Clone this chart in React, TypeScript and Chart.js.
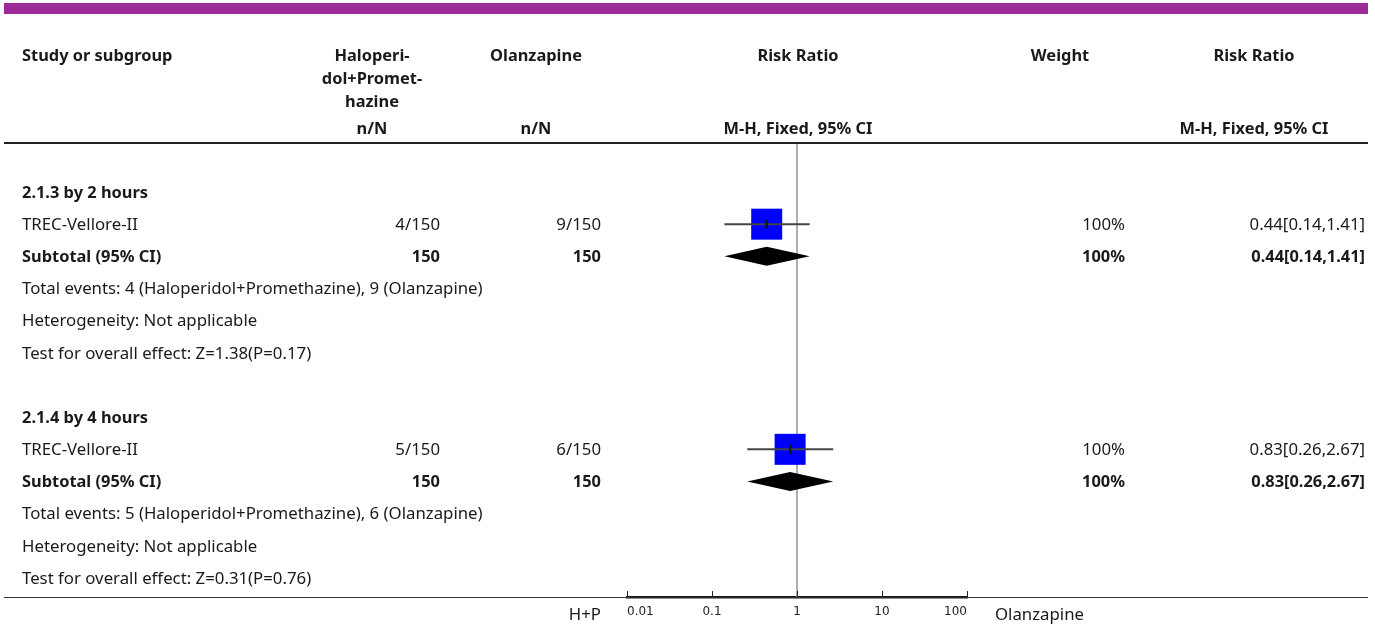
import { useEffect, useRef } from 'react';
import { Chart, registerables } from 'chart.js';

Chart.register(...registerables);

const W = 1375;
const H = 628;

// Subgroups and their single trial
const groupTitles = ['2.1.3 by 2 hours', '2.1.4 by 4 hours'];
const studyNames = ['TREC-Vellore-II', 'TREC-Vellore-II'];
const hpEvents = [4, 5];
const hpTotals = [150, 150];
const olzEvents = [9, 6];
const olzTotals = [150, 150];
const studyRR = [0.44, 0.83];
const studyLow = [0.14, 0.26];
const studyHigh = [1.41, 2.67];
const studyWeights = [100, 100];

// Pooled subtotals per subgroup
const subtotalRR = [0.44, 0.83];
const subtotalLow = [0.14, 0.26];
const subtotalHigh = [1.41, 2.67];
const subtotalWeights = [100, 100];
const heterogeneity = ['Not applicable', 'Not applicable'];
const effectZ = ['1.38', '0.31'];
const effectP = ['0.17', '0.76'];

// Axis
const axisTicks = [0.01, 0.1, 1, 10, 100];
const leftFavours = 'H+P';
const rightFavours = 'Olanzapine';
const interventionName = 'Haloperidol+Promethazine';
const controlName = 'Olanzapine';

const FONT = '"Noto Sans", Roboto, sans-serif';
const TICK_FONT = '"DejaVu Sans", sans-serif';
const TEXT = '#1a1a1a';
const REGULAR_SIZE = 16.8;
const BOLD_SIZE = 16.4;
const ROWS_PER_GROUP = 7;
const groupRow = (g: number) => g * ROWS_PER_GROUP;
const studyRow = (g: number) => g * ROWS_PER_GROUP + 1;
const subtotalRow = (g: number) => g * ROWS_PER_GROUP + 2;
const MAX_BOX = 31;

const fmtCI = (r: number, lo: number, hi: number) =>
  `${r.toFixed(2)}[${lo.toFixed(2)},${hi.toFixed(2)}]`;

// column anchors
const COL = {
  study: 22,
  hp: 440,
  olz: 601,
  hpHead: 372,
  olzHead: 536,
  plotHead: 798,
  weight: 1125,
  weightHead: 1060,
  rr: 1365,
  rrHead: 1254,
};

function text(
  ctx: CanvasRenderingContext2D,
  s: string,
  x: number,
  y: number,
  align: CanvasTextAlign,
  bold = false
) {
  ctx.font = bold ? `bold ${BOLD_SIZE}px ${FONT}` : `${REGULAR_SIZE}px ${FONT}`;
  ctx.fillStyle = TEXT;
  ctx.textAlign = align;
  ctx.textBaseline = 'middle';
  ctx.fillText(s, x, y + 1);
}

const forestPlugin = {
  id: 'forestTable',
  beforeDatasetsDraw(chart: any) {
    const { ctx, chartArea, scales } = chart;
    const x1 = scales.x.getPixelForValue(1);
    ctx.save();
    ctx.strokeStyle = '#9a9a9a';
    ctx.lineWidth = 1.6;
    ctx.beginPath();
    ctx.moveTo(x1, chartArea.top);
    ctx.lineTo(x1, chartArea.bottom);
    ctx.stroke();
    ctx.restore();
  },
  afterDatasetsDraw(chart: any) {
    const { ctx, scales } = chart;
    const xs = scales.x;
    const ys = scales.y;
    ctx.save();
    ctx.fillStyle = '#000';
    subtotalRR.forEach((r, g) => {
      const y = ys.getPixelForValue(subtotalRow(g));
      const half = 9.5;
      ctx.beginPath();
      ctx.moveTo(xs.getPixelForValue(subtotalLow[g]), y);
      ctx.lineTo(xs.getPixelForValue(r), y - half);
      ctx.lineTo(xs.getPixelForValue(subtotalHigh[g]), y);
      ctx.lineTo(xs.getPixelForValue(r), y + half);
      ctx.closePath();
      ctx.fill();
    });
    ctx.restore();
  },
  afterDraw(chart: any) {
    const { ctx, chartArea, scales } = chart;
    const xs = scales.x;
    const ys = scales.y;
    ctx.save();

    // top banner
    ctx.fillStyle = '#9c2a97';
    ctx.fillRect(4, 3, 1364, 11);

    // header
    text(ctx, 'Study or subgroup', COL.study, 55, 'left', true);
    ['Haloperi-', 'dol+Promet-', 'hazine'].forEach((s, i) =>
      text(ctx, s, COL.hpHead, 55 + i * 23, 'center', true)
    );
    text(ctx, controlName, COL.olzHead, 55, 'center', true);
    text(ctx, 'Risk Ratio', COL.plotHead, 55, 'center', true);
    text(ctx, 'Weight', COL.weightHead, 55, 'center', true);
    text(ctx, 'Risk Ratio', COL.rrHead, 55, 'center', true);
    text(ctx, 'n/N', COL.hpHead, 128, 'center', true);
    text(ctx, 'n/N', COL.olzHead, 128, 'center', true);
    text(ctx, 'M-H, Fixed, 95% CI', COL.plotHead, 128, 'center', true);
    text(ctx, 'M-H, Fixed, 95% CI', COL.rrHead, 128, 'center', true);

    // rules
    ctx.strokeStyle = '#222';
    ctx.lineWidth = 2;
    ctx.beginPath();
    ctx.moveTo(4, chartArea.top);
    ctx.lineTo(1368, chartArea.top);
    ctx.stroke();
    ctx.lineWidth = 1;
    ctx.strokeStyle = '#333';
    ctx.beginPath();
    ctx.moveTo(4, chartArea.bottom + 0.5);
    ctx.lineTo(1368, chartArea.bottom + 0.5);
    ctx.stroke();

    // upward ticks
    ctx.lineWidth = 1;
    ctx.strokeStyle = '#222';
    axisTicks.forEach((t) => {
      const x = Math.round(xs.getPixelForValue(t)) + 0.5;
      ctx.beginPath();
      ctx.moveTo(x, chartArea.bottom - 6);
      ctx.lineTo(x, chartArea.bottom);
      ctx.stroke();
    });
    const axisY = chartArea.bottom + 17;
    text(ctx, leftFavours, xs.getPixelForValue(axisTicks[0]) - 26, axisY, 'right');
    text(ctx, rightFavours, xs.getPixelForValue(axisTicks[axisTicks.length - 1]) + 28, axisY, 'left');

    // table rows
    groupTitles.forEach((title, g) => {
      text(ctx, title, COL.study, ys.getPixelForValue(groupRow(g)), 'left', true);

      const yS = ys.getPixelForValue(studyRow(g));
      text(ctx, studyNames[g], COL.study, yS, 'left');
      text(ctx, `${hpEvents[g]}/${hpTotals[g]}`, COL.hp, yS, 'right');
      text(ctx, `${olzEvents[g]}/${olzTotals[g]}`, COL.olz, yS, 'right');
      text(ctx, `${studyWeights[g]}%`, COL.weight, yS, 'right');
      text(ctx, fmtCI(studyRR[g], studyLow[g], studyHigh[g]), COL.rr, yS, 'right');

      const yT = ys.getPixelForValue(subtotalRow(g));
      text(ctx, 'Subtotal (95% CI)', COL.study, yT, 'left', true);
      text(ctx, `${hpTotals[g]}`, COL.hp, yT, 'right', true);
      text(ctx, `${olzTotals[g]}`, COL.olz, yT, 'right', true);
      text(ctx, `${subtotalWeights[g]}%`, COL.weight, yT, 'right', true);
      text(ctx, fmtCI(subtotalRR[g], subtotalLow[g], subtotalHigh[g]), COL.rr, yT, 'right', true);

      text(
        ctx,
        `Total events: ${hpEvents[g]} (${interventionName}), ${olzEvents[g]} (${controlName})`,
        COL.study,
        ys.getPixelForValue(groupRow(g) + 3),
        'left'
      );
      text(ctx, `Heterogeneity: ${heterogeneity[g]}`, COL.study, ys.getPixelForValue(groupRow(g) + 4), 'left');
      text(
        ctx,
        `Test for overall effect: Z=${effectZ[g]}(P=${effectP[g]})`,
        COL.study,
        ys.getPixelForValue(groupRow(g) + 5),
        'left'
      );
    });
    ctx.restore();
  },
};

export default function App() {
  const ref = useRef<HTMLCanvasElement | null>(null);

  useEffect(() => {
    if (!ref.current) return;
    const rowsIdx = studyNames.map((_, g) => studyRow(g));

    const ciLines = studyNames.map((_, g) => ({
      type: 'line' as const,
      data: [
        { x: studyLow[g], y: rowsIdx[g] },
        { x: studyHigh[g], y: rowsIdx[g] },
      ],
      borderColor: '#444',
      borderWidth: 2,
      pointRadius: 0,
      showLine: true,
      order: 2,
    }));

    const chart = new Chart(ref.current, {
      type: 'scatter',
      data: {
        datasets: [
          {
            data: studyRR.map((r, g) => ({ x: r, y: rowsIdx[g] })),
            pointStyle: 'rect',
            pointRadius: studyWeights.map((w) => ((MAX_BOX * w) / 100) / Math.SQRT2),
            backgroundColor: '#0000ff',
            borderWidth: 0,
            order: 3,
          },
          ...ciLines,
          {
            data: studyRR.map((r, g) => ({ x: r, y: rowsIdx[g] })),
            pointStyle: 'line',
            rotation: 90,
            pointRadius: 4.5,
            borderColor: '#111',
            borderWidth: 2,
            order: 1,
          },
        ] as any,
      },
      options: {
        responsive: false,
        animation: false,
        devicePixelRatio: 1,
        events: [],
        layout: { padding: { left: 627, right: W - 967, top: 143, bottom: 0.6 } },
        plugins: { legend: { display: false }, tooltip: { enabled: false } },
        scales: {
          x: {
            type: 'logarithmic',
            min: axisTicks[0],
            max: axisTicks[axisTicks.length - 1],
            afterBuildTicks: (scale: any) => {
              scale.ticks = axisTicks.map((v) => ({ value: v }));
            },
            grid: { display: true, drawOnChartArea: false, drawTicks: false },
            border: { display: true, color: '#111', width: 2.5 },
            ticks: {
              padding: 8,
              color: '#222',
              align: 'inner',
              font: { family: TICK_FONT, size: 12 },
              callback: (v: any) => String(v),
              autoSkip: false,
              maxRotation: 0,
            },
          },
          y: {
            type: 'linear',
            display: false,
            reverse: true,
            min: -1.5233,
            max: 12.5907,
          },
        },
      },
      plugins: [forestPlugin],
    });
    return () => chart.destroy();
  }, []);

  return (
    <div style={{ position: 'absolute', left: 0, top: 0, width: W, height: H, background: '#fff' }}>
      <canvas ref={ref} width={W} height={H} style={{ display: 'block' }} />
    </div>
  );
}
